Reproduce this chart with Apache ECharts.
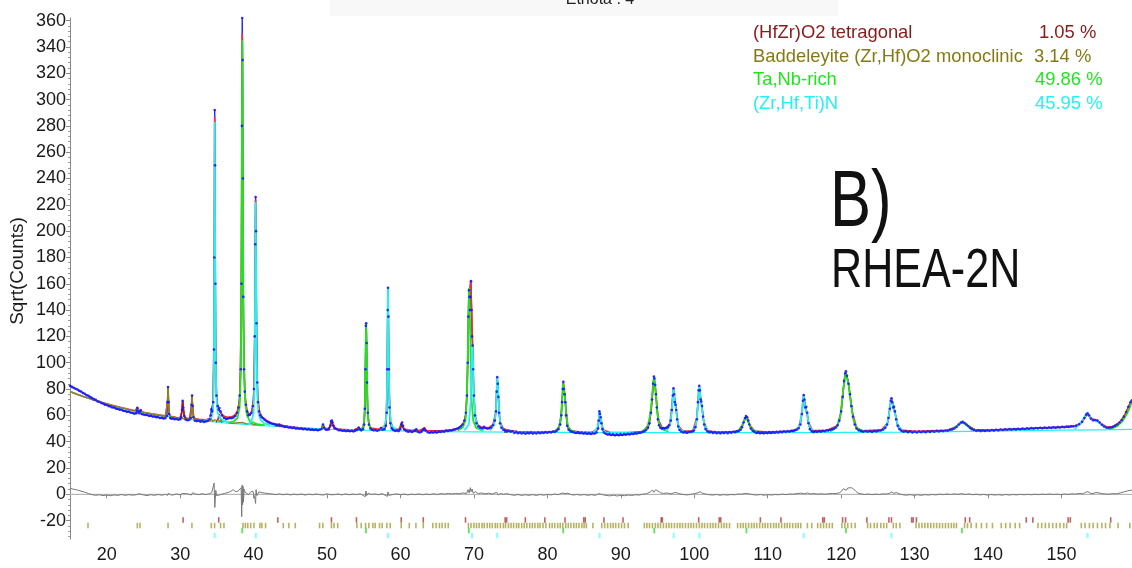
<!DOCTYPE html>
<html>
<head>
<meta charset="utf-8">
<script src="https://cdn.jsdelivr.net/npm/echarts@6/dist/echarts.min.js"></script>
<style>
html,body{margin:0;padding:0;background:#fff;}
#chart{width:1132px;height:568px;}
</style>
</head>
<body>
<div id="chart"></div>
<script>
// Rietveld fit of RHEA-2N, 2-theta in degrees vs sqrt(counts)

// measured pattern
const observed = [
[15,82.5],[15.25,81.6],[15.5,80.9],[15.75,80.2],[16,79.6],[16.25,78.6],[16.5,78.1],[16.75,77.0],[17,76.4],[17.25,75.3],[17.5,74.9],[17.75,73.8],[18,73.2],[18.25,72.1],[18.5,71.8],[18.75,70.6],[19,70.3],[19.25,69.4],[19.5,69.0],[19.75,68.1],[20,67.9],[20.25,67.0],[20.5,66.8],[20.75,66.0],[21,65.9],[21.25,65.1],[21.5,64.8],[21.75,64.3],[22,64.2],[22.25,63.4],[22.5,63.3],[22.75,62.6],[23,62.8],[23.25,62.0],[23.5,61.9],[23.75,61.2],[24,61.5],[24.1,63.5],[24.17,65.5],[24.25,62.8],[24.4,61.6],[24.55,63.0],[24.62,64.0],[24.75,61.0],[25,60.6],[25.25,60.2],[25.5,60.4],[25.75,59.6],[26,59.8],[26.25,59.1],[26.5,59.3],[26.75,58.6],[27,58.9],[27.25,58.0],[27.5,58.3],[27.75,57.6],[28,57.9],[28.2,59.5],[28.28,70],[28.35,81.5],[28.42,70],[28.5,61],[28.65,58.0],[28.8,57.4],[29,57.6],[29.25,57.0],[29.5,57.2],[29.75,56.6],[30,57.0],[30.15,58.5],[30.25,64],[30.33,71],[30.42,66],[30.55,59.5],[30.75,56.8],[31,56.3],[31.25,56.6],[31.45,58],[31.55,68],[31.62,75],[31.7,67],[31.8,58.5],[32,56.0],[32.25,55.6],[32.5,55.9],[32.75,55.2],[33,55.5],[33.25,55.0],[33.5,55.4],[33.75,55.8],[34,57.0],[34.15,60],[34.25,64.5],[34.35,63],[34.5,70],[34.6,110],[34.65,180],[34.7,292],[34.75,250],[34.8,160],[34.85,100],[34.95,75],[35.1,67],[35.25,64.5],[35.35,65.5],[35.5,63],[35.7,60],[36,58],[36.25,57.2],[36.5,57.5],[36.75,58.2],[37,57.8],[37.25,58.3],[37.5,59.5],[37.75,62],[37.95,66],[38.1,75],[38.25,95],[38.35,160],[38.4,280],[38.45,362],[38.5,330],[38.55,240],[38.6,150],[38.7,95],[38.8,78],[38.95,68],[39.1,63],[39.3,60],[39.5,60.5],[39.7,62],[39.9,67],[40.05,80],[40.15,120],[40.22,190],[40.27,226],[40.33,200],[40.4,130],[40.5,85],[40.6,70],[40.75,63],[40.9,60],[41.1,58.5],[41.3,57.8],[41.5,56.6],[41.75,55.6],[42,54.8],[42.25,54.2],[42.5,53.6],[42.75,53.3],[43,52.8],[43.25,52.5],[43.5,52.9],[43.75,52.0],[44,51.8],[44.25,51.1],[44.5,51.4],[44.75,50.8],[45,51.0],[45.25,50.4],[45.5,50.7],[45.75,50.0],[46,50.3],[46.25,49.8],[46.5,50.1],[46.75,49.5],[47,49.8],[47.25,49.2],[47.5,49.6],[47.75,49.0],[48,49.3],[48.25,48.8],[48.5,49.1],[48.75,48.7],[49,49.0],[49.25,49.6],[49.45,53],[49.6,50.5],[49.8,49.2],[50,49.0],[50.25,49.3],[50.45,52],[50.55,55.5],[50.65,56],[50.75,54.5],[50.9,52],[51.1,50],[51.35,49.4],[51.6,48.7],[51.85,48.9],[52.1,48.3],[52.35,48.6],[52.6,48.0],[52.85,48.4],[53.1,47.9],[53.35,48.3],[53.6,47.8],[53.85,48.4],[54.1,48.9],[54.3,50.8],[54.45,49.5],[54.65,48.6],[54.9,49.5],[55.05,53],[55.15,65],[55.22,95],[55.28,128],[55.33,130],[55.38,115],[55.45,85],[55.55,62],[55.7,53],[55.9,50],[56.1,49.1],[56.35,48.6],[56.6,48.9],[56.85,48.3],[57.1,48.8],[57.35,50.4],[57.55,49.0],[57.8,49.5],[58,52],[58.12,62],[58.2,95],[58.26,140],[58.3,157],[58.35,135],[58.42,95],[58.5,66],[58.62,54],[58.8,50],[59,48.8],[59.25,48.2],[59.5,48.5],[59.75,48.0],[59.95,49.5],[60.1,53],[60.22,54.5],[60.35,52],[60.55,49.0],[60.8,48.0],[61.05,47.6],[61.3,48.1],[61.55,47.4],[61.8,47.9],[62,48.2],[62.15,49.3],[62.35,47.5],[62.6,47.0],[62.85,47.6],[63.05,48.8],[63.25,50.2],[63.45,48.5],[63.7,47.2],[63.95,46.8],[64.2,47.4],[64.45,46.9],[64.7,47.6],[64.95,47.0],[65.2,47.8],[65.45,47.3],[65.7,48.0],[65.95,47.6],[66.2,48.4],[66.45,48.0],[66.7,48.6],[66.95,48.5],[67.2,49.0],[67.45,49.3],[67.7,49.8],[67.95,50.5],[68.2,51.5],[68.45,53],[68.7,56],[68.9,62],[69.05,75],[69.15,100],[69.25,135],[69.32,155],[69.38,150],[69.45,140],[69.52,150],[69.6,162],[69.67,140],[69.75,120],[69.82,113],[69.9,95],[70,75],[70.15,60],[70.35,54],[70.6,51.5],[70.85,50.5],[71.1,50.2],[71.35,51.2],[71.6,50.4],[71.85,49.8],[72.1,50.3],[72.35,50.8],[72.6,52.5],[72.85,56],[73,63],[73.1,78],[73.17,89],[73.25,84],[73.33,74],[73.42,62],[73.55,54],[73.75,50.5],[74,49.0],[74.25,48.5],[74.5,48.0],[74.75,48.2],[75,47.6],[75.25,47.9],[75.5,46.6],[75.75,47.2],[76,46.4],[76.25,47.0],[76.5,46.2],[76.75,46.8],[77,46.0],[77.25,46.7],[77.5,46.3],[77.75,46.9],[78,46.1],[78.25,46.7],[78.5,46.2],[78.75,46.9],[79,46.4],[79.25,47.0],[79.5,46.6],[79.75,47.2],[80,46.8],[80.25,47.3],[80.5,47.0],[80.75,47.6],[81,47.4],[81.25,48.2],[81.5,49.5],[81.75,53],[81.9,60],[82,70],[82.1,80],[82.17,85.5],[82.25,80],[82.35,76],[82.45,70],[82.55,60],[82.7,52],[82.9,49],[83.15,47.8],[83.4,47.4],[83.65,47.0],[83.9,46.6],[84.15,47.1],[84.4,46.4],[84.65,46.9],[84.9,46.2],[85.15,46.8],[85.4,46.0],[85.65,46.6],[85.9,45.9],[86.15,46.4],[86.45,46.2],[86.7,47.0],[86.9,50],[87,56],[87.08,63],[87.16,61],[87.25,58.5],[87.35,54],[87.5,49.5],[87.7,47.0],[87.95,46.0],[88.2,45.4],[88.45,45.9],[88.7,45.0],[88.95,45.6],[89.2,44.8],[89.45,45.5],[89.7,44.9],[89.95,45.7],[90.2,45.1],[90.45,45.8],[90.7,45.3],[90.95,46.0],[91.2,45.5],[91.45,46.2],[91.7,45.9],[91.95,46.5],[92.2,46.2],[92.45,46.8],[92.7,46.8],[92.95,47.4],[93.2,47.8],[93.45,48.8],[93.7,50.5],[93.9,54],[94.1,62],[94.25,72],[94.4,84],[94.5,89.5],[94.58,88],[94.68,83],[94.78,76],[94.9,66],[95.05,57],[95.2,52.5],[95.4,50.5],[95.6,50.0],[95.8,50.3],[96,50.0],[96.2,50.5],[96.4,51.0],[96.6,52.5],[96.8,56],[96.95,64],[97.08,75],[97.17,80.5],[97.26,76],[97.35,70],[97.45,68],[97.55,64],[97.68,57],[97.82,51.5],[98,48.8],[98.25,47.5],[98.5,47.0],[98.75,47.4],[99,46.8],[99.25,47.3],[99.5,47.3],[99.75,47.8],[99.95,48.5],[100.15,51],[100.35,57],[100.5,70],[100.6,79],[100.68,82.5],[100.76,79],[100.86,72],[100.95,70.5],[101.05,67],[101.2,59],[101.35,53],[101.55,49.5],[101.8,47.8],[102.05,46.9],[102.3,47.3],[102.55,46.6],[102.8,47.2],[103.05,46.4],[103.3,47.0],[103.55,46.3],[103.8,46.9],[104.05,46.5],[104.3,47.1],[104.55,46.4],[104.8,47.2],[105.05,46.8],[105.3,47.5],[105.55,47.2],[105.8,47.8],[106.05,48.0],[106.3,49.0],[106.5,51],[106.7,54.5],[106.9,58],[107.05,59.5],[107.2,58.5],[107.35,56],[107.5,53],[107.7,50],[107.95,48.3],[108.2,47.4],[108.45,46.6],[108.7,47.2],[108.95,46.4],[109.2,46.9],[109.45,46.3],[109.7,47.0],[109.95,46.5],[110.2,47.2],[110.45,46.6],[110.7,47.3],[110.95,46.8],[111.2,47.5],[111.45,47.0],[111.7,47.6],[111.95,47.2],[112.2,47.9],[112.45,47.4],[112.7,48.0],[112.95,47.6],[113.2,48.3],[113.45,48.0],[113.7,48.6],[113.95,49.0],[114.2,50.2],[114.45,53],[114.65,61],[114.8,71],[114.9,75.5],[115,72],[115.12,66],[115.25,66.5],[115.38,62],[115.55,54],[115.75,49.5],[116,47.8],[116.25,47.2],[116.5,47.8],[116.75,47.3],[117,48.0],[117.25,47.6],[117.5,48.3],[117.75,47.9],[118,48.6],[118.25,48.4],[118.5,49.0],[118.75,49.2],[119,49.8],[119.25,50.8],[119.5,52.5],[119.75,56],[120,63],[120.2,74],[120.4,86],[120.55,92],[120.65,93.5],[120.8,90],[121,84],[121.2,76],[121.4,67],[121.6,59],[121.85,53],[122.1,50],[122.4,48.6],[122.7,48.0],[123,47.6],[123.3,48.1],[123.6,47.5],[123.9,48.0],[124.2,47.4],[124.5,48.1],[124.8,47.8],[125.1,48.4],[125.4,48.5],[125.7,49.2],[126,50.5],[126.25,53],[126.45,58],[126.62,65],[126.75,71],[126.85,73],[126.95,70],[127.08,66],[127.2,66.5],[127.32,63],[127.5,57],[127.7,52],[127.95,49.4],[128.2,48.2],[128.5,47.5],[128.8,47.9],[129.1,47.2],[129.4,47.8],[129.7,47.0],[130,47.6],[130.3,47.0],[130.6,47.7],[130.9,47.1],[131.2,47.8],[131.5,47.2],[131.8,47.9],[132.1,47.4],[132.4,48.0],[132.7,47.5],[133,48.2],[133.3,47.8],[133.6,48.3],[133.9,48.0],[134.2,48.5],[134.5,48.4],[134.8,49.0],[135.1,49.3],[135.4,50.0],[135.7,51.2],[136,53],[136.3,54.5],[136.55,55],[136.8,54.2],[137.05,53],[137.3,51.8],[137.55,50.5],[137.8,49.5],[138.1,48.8],[138.4,48.2],[138.7,48.6],[139,48.0],[139.3,48.5],[139.6,48.1],[139.9,48.6],[140.2,48.2],[140.5,48.8],[140.8,48.4],[141.1,49.0],[141.4,48.6],[141.7,49.2],[142,48.8],[142.3,49.3],[142.6,49.0],[142.9,49.5],[143.2,49.1],[143.5,49.6],[143.8,49.3],[144.1,49.8],[144.4,49.4],[144.7,50.0],[145,49.6],[145.3,50.1],[145.6,49.8],[145.9,50.3],[146.2,49.9],[146.5,50.4],[146.8,50.1],[147.1,50.6],[147.4,50.2],[147.7,50.7],[148,50.4],[148.3,50.8],[148.6,50.5],[148.9,50.9],[149.2,50.6],[149.5,51.0],[149.8,50.8],[150.1,51.2],[150.4,51.0],[150.7,51.4],[151,51.2],[151.3,51.6],[151.6,51.6],[152,52.2],[152.4,53.2],[152.8,55],[153.1,58],[153.35,60.5],[153.55,61.5],[153.75,60],[154,57.5],[154.3,56.2],[154.6,56.5],[154.9,56],[155.2,54.5],[155.5,52.8],[155.8,51.5],[156.1,50.8],[156.4,50.5],[156.7,50.8],[157,51.2],[157.3,52.0],[157.6,53.0],[157.9,54.5],[158.2,56.5],[158.5,59],[158.8,62.5],[159.1,66.5],[159.4,70],[159.6,71.5]
];

// total calculated profile
const calculated = [
[15,78.2],[16,76],[17,74],[18,72.2],[19,70.4],[20,68.8],[21,67.3],[22,65.9],[23,64.6],[23.9,63.5],[24.17,66],[24.35,63.6],[24.55,65],[24.7,63.2],[25,62.3],[26,61.3],[27,60.4],[28,59.6],[28.2,60.5],[28.28,70],[28.35,81],[28.42,70],[28.5,61],[28.7,59.2],[29.5,58.4],[30,58.1],[30.2,61],[30.35,71],[30.5,61],[30.7,58],[31.3,57.6],[31.5,62],[31.6,75],[31.7,64],[31.9,57.8],[32.5,57],[33.5,56.6],[34,57.5],[34.25,60.5],[34.45,64],[34.6,120],[34.7,287],[34.8,130],[34.95,74],[35.15,65],[35.3,65],[35.5,62.5],[35.8,60],[36.2,58.8],[36.6,58.5],[37,58.8],[37.4,60],[37.8,63],[38.1,72],[38.3,130],[38.45,350],[38.6,130],[38.8,76],[39.1,63.5],[39.4,60.5],[39.7,61.5],[40,72],[40.15,120],[40.27,224],[40.4,120],[40.55,75],[40.8,62.5],[41.2,58.5],[41.8,56],[42.5,54],[43.3,53.2],[44,52.2],[45,51.3],[46,50.7],[47,50.2],[48,49.8],[49.2,49.6],[49.45,53],[49.7,49.8],[50.3,50.2],[50.6,56],[50.9,51.5],[51.3,49.8],[52,49.3],[53,49.0],[54,49.0],[54.3,50.5],[54.6,49.2],[55,51],[55.15,65],[55.33,129],[55.5,66],[55.7,53],[56,50.3],[57,49.4],[57.35,50.3],[57.6,49.4],[58,52],[58.15,75],[58.3,156],[58.45,80],[58.65,55],[59,50.2],[59.8,49],[60.15,54.5],[60.5,49.5],[61.5,48.4],[62.15,49.2],[62.5,48.3],[63.15,50],[63.5,48.4],[64.5,48.2],[66,48.4],[67,49.0],[68,50.5],[68.6,54],[68.9,60],[69.1,85],[69.3,150],[69.45,150],[69.55,162],[69.7,140],[69.8,116],[69.95,80],[70.15,60],[70.5,53],[71,51],[72,50.5],[72.6,53],[72.95,62],[73.17,88],[73.35,72],[73.55,55],[74,50],[74.4,49],[75,48.2],[76,47.7],[78,47.4],[80,47.3],[81,47.8],[81.6,51],[81.9,62],[82.17,85],[82.35,76],[82.5,66],[82.8,51],[83.3,48.2],[84.5,47.3],[86,47.1],[86.8,49],[87.1,62],[87.3,57],[87.6,49],[88.5,47.0],[91,46.9],[93,47.6],[93.8,53],[94.2,68],[94.52,88.5],[94.8,75],[95.1,57],[95.6,50.8],[96.2,50.6],[96.7,54],[97.17,80],[97.45,68],[97.8,52],[98.5,47.8],[99.8,48.3],[100.35,58],[100.68,82],[100.95,70],[101.3,55],[101.8,48.5],[103,47.2],[105,47.3],[106,48.3],[106.6,53],[107.05,59],[107.5,53],[108.2,48],[110,47.3],[113,47.8],[114.2,50],[114.6,60],[114.9,75],[115.1,67],[115.25,66],[115.6,54],[116.1,48.6],[118,48.5],[119.5,52],[120,63],[120.4,86],[120.65,93],[121,84],[121.5,63],[122.1,50.5],[123,48.2],[125.5,49],[126.3,54],[126.85,72.5],[127.2,66],[127.6,54],[128.2,48.8],[130,47.8],[134.5,48.6],[135.7,51.5],[136.5,55],[137.3,52],[138.2,49.2],[140,48.8],[145,49.8],[150,51.0],[152,52],[152.8,55],[153.55,61],[154,58],[154.6,56.5],[155.3,54],[156.2,51],[157,51.5],[158,55],[158.8,62],[159.6,71.5]
];

// refined background
const background = [
[15,78],[16,75.8],[17,73.8],[18,72],[19,70.2],[20,68.6],[21,67.1],[22,65.7],[23,64.4],[24,63.2],[25,62.1],[26,61.1],[27,60.2],[28,59.3],[29,58.5],[30,57.8],[31,57.1],[32,56.5],[33,55.9],[34,55.3],[36,54.3],[38,53.4],[40,52.6],[42,51.9],[44,51.2],[46,50.6],[48,50.1],[50,49.6],[52,49.2],[55,48.7],[58,48.3],[62,47.9],[66,47.6],[70,47.4],[75,47.2],[80,47.0],[90,46.8],[100,46.8],[110,46.9],[120,47.0],[130,47.3],[140,48.0],[150,48.7],[155,49.0],[159.6,49.3]
];

// phase profiles (background + phase), one list per peak group
const tetragonalProfile = [
[[29.9,57.9],[30.15,60],[30.27,66],[30.35,71],[30.45,64],[30.6,59],[30.9,57.4]],
[[34.9,54.8],[35.15,57],[35.3,61],[35.45,57.5],[35.7,54.6]],
[[43.0,51.5],[43.3,52.6],[43.6,51.4]],
[[50.2,49.6],[50.45,51.5],[50.6,55.5],[50.75,53],[51.0,49.5]],
[[53.7,48.9],[54.0,50],[54.3,48.9]],
[[59.8,48.1],[60.05,50.5],[60.15,53.5],[60.3,51],[60.6,48.1]],
[[62.9,47.8],[63.15,50],[63.4,47.8]],
[[74.1,47.3],[74.35,48.3],[74.6,47.3]]
];
const baddeleyiteProfile = [
[[15,78],[16,75.8],[17,73.8],[17.45,73.3],[18,72],[19,70.2],[20,68.6],[21,67.1],[22,65.7],[23,64.4],[23.9,63.3],[24.05,64.5],[24.17,66.5],[24.3,64],[24.45,63.5],[24.55,65],[24.68,63.3],[25,62.1],[26,61.1],[27,60.2],[28,59.3],[28.2,60.5],[28.28,70],[28.35,82],[28.42,69],[28.52,60.5],[28.8,59],[29.5,58.2],[30,57.8],[31,57.2],[31.45,58],[31.55,66],[31.62,75],[31.7,66],[31.8,58],[32,56.6],[33,55.9],[34,55.4],[34.24,57.5],[34.4,55.4],[34.69,56.5],[34.85,55],[35.5,55.5],[35.7,54.6],[35.96,55.8],[36.2,54.4],[37,54.0],[38.55,54.5],[39,53.5],[39.6,54],[40,53],[41,52.6]],
[[49.2,49.6],[49.35,51],[49.45,53.5],[49.55,51.5],[49.75,49.6]],
[[54.1,48.8],[54.3,50.6],[54.5,48.8]],
[[57.15,48.4],[57.35,50],[57.55,48.4]],
[[61.95,47.9],[62.15,49.3],[62.35,47.9]]
];
const taNbProfile = [
[[36.5,54.2],[37.3,55.5],[37.8,58],[38.1,66],[38.25,90],[38.35,170],[38.42,300],[38.46,345],[38.5,300],[38.58,170],[38.68,100],[38.85,70],[39.1,60],[39.5,55.5],[40.5,53.3],[41.5,52.5]],
[[54.4,48.7],[54.8,50],[55.05,55],[55.18,75],[55.27,115],[55.33,130],[55.4,110],[55.5,72],[55.62,56],[55.85,50.5],[56.3,48.9]],
[[67.8,48.5],[68.5,51],[68.85,56],[69.05,75],[69.18,110],[69.28,145],[69.35,157],[69.42,145],[69.55,105],[69.7,70],[69.9,56],[70.3,50.5],[71.2,48.3]],
[[80.8,47.2],[81.5,49.5],[81.85,58],[82.0,72],[82.12,84],[82.2,85],[82.3,78],[82.42,72],[82.55,62],[82.75,52],[83.2,48.2],[84,47.2]],
[[92.8,47.3],[93.6,50.5],[94.0,60],[94.3,78],[94.5,89],[94.62,86],[94.8,74],[94.95,63],[95.2,54],[95.6,49.5],[96.5,47.5]],
[[105.5,47.2],[106.3,49.5],[106.7,54.5],[107.05,59],[107.4,54.5],[107.8,49.5],[108.6,47.4]],
[[118.5,47.8],[119.4,51],[119.9,60],[120.3,80],[120.6,92],[120.75,92.5],[121.0,84],[121.35,68],[121.7,56],[122.2,50],[123.2,47.6]],
[[134.3,47.8],[135.3,49.8],[135.9,52.5],[136.5,55],[137.1,52.5],[137.8,49.5],[138.8,48.2]],
[[156.5,49.2],[157.5,51.5],[158.3,55.5],[158.9,61],[159.3,66],[159.6,71]]
];
const nitrideProfile = [
[[33.2,55.8],[33.9,57],[34.3,59],[34.5,66],[34.6,100],[34.66,180],[34.7,283],[34.75,200],[34.82,110],[34.92,75],[35.1,62],[35.4,58],[35.9,56],[36.6,54.6]],
[[39.2,53.3],[39.7,55],[40.0,62],[40.12,85],[40.2,150],[40.27,222],[40.33,180],[40.4,110],[40.5,75],[40.65,62],[40.9,57],[41.4,54],[42.3,52.3]],
[[57.0,48.7],[57.7,50.5],[58.05,57],[58.17,80],[58.25,135],[58.3,157],[58.36,130],[58.45,82],[58.58,60],[58.8,52],[59.4,49.2]],
[[68.7,48.6],[69.3,53],[69.55,70],[69.68,100],[69.78,113],[69.88,100],[70.0,75],[70.2,58],[70.6,50.5],[71.4,48.4]],
[[72.2,48.5],[72.75,53],[72.98,62],[73.08,76],[73.17,89],[73.25,83],[73.35,72],[73.45,62],[73.6,53],[74.0,48.8]],
[[86.3,47.2],[86.8,50.5],[86.98,56],[87.08,62.5],[87.18,61],[87.28,57.5],[87.45,51],[87.8,47.8]],
[[96.2,47.8],[96.75,53.5],[96.98,66],[97.12,78],[97.18,80],[97.28,74],[97.4,68],[97.52,64],[97.68,56],[97.95,50],[98.5,47.5]],
[[99.9,47.8],[100.3,55],[100.5,68],[100.62,80],[100.68,82],[100.78,77],[100.9,70],[101.02,67],[101.15,60],[101.4,52],[101.9,48]],
[[113.8,48.2],[114.4,53],[114.65,62],[114.82,73],[114.9,75],[115.0,70],[115.12,66],[115.25,66],[115.4,60],[115.65,52],[116.1,48.5]],
[[125.7,48.3],[126.3,54],[126.6,64],[126.78,72],[126.85,73],[126.95,70],[127.1,66],[127.22,66],[127.4,60],[127.7,52.5],[128.3,48.5]],
[[151.8,49.5],[152.6,54],[153.1,58.5],[153.5,61],[153.8,59.5],[154.2,56.5],[154.6,56],[155.0,55],[155.5,52.5],[156.3,49.8]]
];

// observed minus calculated
const difference = [
[15,4.5],[15.5,3.8],[16,3.2],[16.5,2.4],[17,1.6],[17.5,0.6],[18,-0.3],[18.5,-0.8],[19,-0.4],[19.5,-1.0],[20,-0.6],[20.5,-1.1],[21,-0.5],[21.5,-0.9],[22,-0.2],[22.5,-0.8],[23,-0.3],[23.5,-0.7],[24,-0.4],[24.2,-1.5],[24.4,0.4],[24.6,-1],[25,-0.5],[25.5,-1.0],[26,-0.3],[26.5,-0.8],[27,-0.2],[27.5,-0.7],[28,-0.1],[28.3,-0.8],[28.4,0.8],[28.7,-0.4],[29,-0.6],[29.5,0.3],[30,-0.4],[30.3,0.6],[30.5,-0.5],[31,0.4],[31.5,-0.6],[31.7,1.2],[32,0.3],[32.5,-0.3],[33,0.4],[33.5,-0.2],[34,0.5],[34.3,1.2],[34.5,2.0],[34.62,8.5],[34.68,-3],[34.72,-10],[34.78,-4],[34.85,3],[34.95,-1],[35.2,0.5],[35.5,-0.3],[36,0.6],[36.5,1.3],[36.9,2.2],[37.2,3.5],[37.4,2.8],[37.6,1.8],[37.9,2.5],[38.1,3.2],[38.3,5],[38.38,-17],[38.44,7],[38.5,-8],[38.56,6],[38.62,-6],[38.7,4],[38.85,1.5],[39,0.8],[39.3,-0.3],[39.6,1.8],[39.9,2.4],[40.1,1.2],[40.2,-4],[40.27,-7],[40.33,3.5],[40.45,-1],[40.7,1.8],[41,1.4],[41.5,0.9],[42,0.5],[42.5,0.2],[43,-0.3],[43.5,0.3],[44,-0.4],[44.5,0.2],[45,-0.5],[45.5,0.1],[46,-0.4],[46.5,0.2],[47,-0.6],[47.5,0.1],[48,-0.4],[48.5,0.2],[49,-0.3],[49.5,-0.6],[50,0.3],[50.5,-0.4],[50.7,0.6],[51,-0.3],[51.5,0.2],[52,-0.5],[52.5,0.3],[53,-0.4],[53.5,0.2],[54,-0.3],[54.5,0.4],[55.2,-1.8],[55.3,2.5],[55.4,-1.0],[55.6,0.8],[56,-0.2],[56.5,0.3],[57,-0.4],[57.5,0.5],[58.2,-1.6],[58.3,1.8],[58.4,-0.8],[58.6,0.6],[59,-0.2],[59.5,0.3],[60,-0.4],[60.5,0.2],[61,-0.5],[61.5,0.1],[62,-0.3],[62.5,0.3],[63,-0.4],[63.5,0.2],[64,-0.3],[64.5,0.4],[65,-0.2],[65.5,0.5],[66,0.1],[66.5,0.6],[67,0.2],[67.5,0.7],[68,0.4],[68.5,1.0],[69,0.6],[69.2,3.5],[69.35,1.0],[69.5,5.0],[69.6,2.0],[69.75,4.0],[69.9,0.8],[70.2,2.0],[70.6,0.5],[71,1.0],[71.5,0.3],[72,0.8],[72.5,0.2],[73.1,1.5],[73.3,-0.5],[73.6,0.6],[74,0],[74.5,0.4],[75,-0.3],[75.5,-0.8],[76,-0.2],[76.5,-0.9],[77,-0.4],[77.5,-0.8],[78,-0.3],[78.5,-0.9],[79,-0.2],[79.5,-0.7],[80,-0.1],[80.5,-0.5],[81,0.2],[81.5,-0.3],[82,1.0],[82.2,2.2],[82.4,0.5],[82.8,0.8],[83.2,-0.2],[83.6,-0.6],[84,-0.1],[84.5,-0.7],[85,-0.2],[85.5,-0.8],[86,-0.3],[86.5,-0.8],[87,0.4],[87.2,1.0],[87.5,-0.3],[88,-0.9],[88.5,-1.2],[89,-0.7],[89.5,-1.3],[90,-0.8],[90.5,-1.1],[91,-0.6],[91.5,-0.9],[92,-0.4],[92.5,-0.6],[93,0.1],[93.5,0.4],[94,1.8],[94.3,3.2],[94.5,1.5],[94.75,3.5],[95,2.0],[95.4,1.2],[95.8,0.6],[96.3,1.0],[96.8,0.3],[97.2,1.0],[97.5,1.4],[97.9,0.4],[98.5,-0.2],[99,-0.5],[99.5,-0.1],[100,0.4],[100.5,1.2],[100.8,2.0],[101.1,0.8],[101.5,0.2],[102,-0.3],[102.5,-0.6],[103,-0.2],[103.5,-0.7],[104,-0.3],[104.5,-0.6],[105,-0.2],[105.5,-0.4],[106,0.2],[106.5,0.1],[107,0.7],[107.5,0.2],[108,-0.3],[108.5,-0.6],[109,-0.2],[109.5,-0.7],[110,-0.3],[110.5,-0.6],[111,-0.2],[111.5,-0.4],[112,0.1],[112.5,-0.3],[113,0.2],[113.5,0.1],[114,0.5],[114.5,0.9],[115,0.3],[115.4,1.0],[115.8,0.2],[116.3,0.5],[116.8,0.1],[117.3,0.4],[117.8,0],[118.3,0.4],[118.8,0.6],[119.3,0.5],[119.8,1.2],[120.1,2.6],[120.3,4.2],[120.5,3.4],[120.7,3.0],[120.9,4.8],[121.1,5.5],[121.4,5.0],[121.7,4.0],[122,2.2],[122.3,0.8],[122.7,0.3],[123.2,-0.2],[123.7,0.2],[124.2,-0.3],[124.7,0.1],[125.2,-0.2],[125.7,0.3],[126.2,0.2],[126.6,0.8],[126.9,1.8],[127.2,0.6],[127.5,1.4],[127.9,0.3],[128.4,-0.4],[128.9,-0.7],[129.4,-0.3],[129.9,-0.8],[130.4,-0.4],[130.9,-0.8],[131.4,-0.3],[131.9,-0.6],[132.4,-0.2],[132.9,-0.5],[133.4,0.1],[133.9,-0.3],[134.4,0.2],[134.9,-0.2],[135.4,0.3],[135.9,-0.1],[136.4,0.5],[136.9,-0.2],[137.4,0.3],[137.9,-0.4],[138.4,0.1],[138.9,-0.5],[139.4,-0.1],[139.9,-0.6],[140.4,-0.2],[140.9,-0.6],[141.4,-0.3],[141.9,-0.7],[142.4,-0.2],[142.9,-0.6],[143.4,-0.2],[143.9,-0.5],[144.4,-0.1],[144.9,-0.4],[145.4,-0.1],[145.9,-0.4],[146.4,0],[146.9,-0.3],[147.4,0.1],[147.9,-0.2],[148.4,0.2],[148.9,-0.2],[149.4,0.1],[149.9,-0.3],[150.4,0.2],[150.9,-0.1],[151.4,0.3],[151.9,0.1],[152.4,0.6],[152.9,0.3],[153.3,1.5],[153.6,2.0],[153.9,0.8],[154.3,0.5],[154.7,1.4],[155.1,1.0],[155.5,0.5],[156,0.2],[156.5,0.1],[157,0.5],[157.5,0.3],[158,1.0],[158.5,1.8],[159,2.6],[159.6,3.2]
];

// reflection positions of each phase
const tetragonalTicks = [30.4,35.25,43.3,50.6,54.0,60.1,63.1,68.85,74.25,74.45,77.0,79.65,82.4,84.95,85.15,87.7,90.3,95.5,95.65,100.6,103.4,103.6,109.0,111.8,117.5,117.7,120.2,120.6,123.5,126.5,126.85,129.6,129.8,130.25,136.9,137.5,145.2,146.1,150.9,151.2,156.7];
const baddeleyiteTicks = [17.45,24.17,24.53,28.35,31.6,34.24,34.69,35.5,35.96,38.55,38.87,39.2,39.6,40.05,40.86,41.13,41.63,44.04,44.8,45.67,48.98,49.43,50.6,50.95,51.45,54.06,54.65,55.24,55.69,56.24,56.55,57.14,57.5,58.14,58.6,60.1,61.2,62.1,63.1,64.4,64.85,65.3,65.67,66.1,66.5,
69.25,69.6,70.0,70.35,70.7,71.1,71.4,71.8,72.15,72.5,72.9,73.2,73.6,74.0,74.3,74.7,75.05,75.4,75.8,76.1,76.5,76.85,77.2,77.6,77.95,78.3,78.7,79.0,79.4,79.8,
80.3,80.65,81.0,81.4,81.75,82.1,82.5,82.85,83.2,83.6,83.95,84.3,84.7,85.0,85.3,86.2,
87.4,87.8,88.2,88.6,88.95,89.3,89.7,90.1,90.5,91.0,
93.2,93.55,93.9,94.3,94.7,95.05,95.4,95.8,96.2,96.55,96.9,97.3,97.7,98.05,98.4,98.8,99.2,99.55,99.9,100.3,100.7,101.05,101.4,101.8,102.2,102.55,102.9,103.3,103.7,104.05,104.4,104.8,
105.9,106.3,106.65,107.0,107.4,107.8,108.15,108.5,108.9,109.3,109.65,110.0,110.4,110.8,111.15,111.5,111.9,112.3,112.65,113.0,113.4,113.8,114.15,114.5,115.4,116.0,
116.8,117.2,117.6,118.0,118.4,118.8,120.1,120.5,120.9,121.4,121.9,123.6,124.0,124.5,124.9,125.4,125.8,126.2,127.1,127.5,128.0,
130.2,130.6,131.0,131.4,131.8,132.2,132.6,133.0,133.4,133.8,134.2,134.6,135.0,135.35,135.7,136.8,137.2,137.7,138.4,139.1,139.8,140.6,141.8,142.4,143.0,143.7,144.3,
146.8,147.3,147.8,148.3,148.8,149.3,149.8,150.3,150.7,152.7,153.2,153.8,154.3,154.9,155.5,156.0,156.6,157.7,159.3];
const taNbTicks = [38.45,55.3,69.3,82.15,94.55,107.1,120.65,136.45];
const nitrideTicks = [34.7,40.3,58.3,69.75,73.17,87.1,97.2,100.7,114.9,126.85,153.55];

// axis labels
const xTickValues = [20,30,40,50,60,70,80,90,100,110,120,130,140,150];
const yTickValues = [-20,0,20,40,60,80,100,120,140,160,180,200,220,240,260,280,300,320,340,360];
const yMinorValues = [-32,-28,-24,-16,-12,-8,-4,4,8,12,16,24,28,32,36,44,48,52,56,64,68,72,76,84,88,92,96,104,108,112,116,124,128,132,136,144,148,152,156,164,168,172,176,184,188,192,196,204,208,212,216,224,228,232,236,244,248,252,256,264,268,272,276,284,288,292,296,304,308,312,316,324,328,332,336,344,348,352,356];

// legend rows: phase, weight fraction
const phaseNames = ['(HfZr)O2 tetragonal','Baddeleyite (Zr,Hf)O2 monoclinic','Ta,Nb-rich','(Zr,Hf,Ti)N'];
const phaseFractions = ['1.05 %','3.14 %','49.86 %','45.95 %'];
const phaseColors = ['#8b1a1a','#857a12','#1ee61e','#22f2f2'];

function joinSegments(segs) {
  const out = [];
  segs.forEach((s, i) => {
    if (i > 0) out.push([s[0][0], '-']);
    s.forEach(p => out.push(p));
  });
  return out;
}
function tickRow(ticks, level) {
  return ticks.map(t => [t, level]);
}

const chart = echarts.init(document.getElementById('chart'), null, {renderer: 'canvas'});
const FONT = '"Liberation Sans", Arial, sans-serif';

const lineBase = {type: 'line', showSymbol: false, symbol: 'none', animation: false, silent: true, connectNulls: false};

const option = {
  animation: false,
  backgroundColor: '#ffffff',
  grid: {left: 70, right: 0, top: 18, bottom: 29, containLabel: false},
  xAxis: {
    type: 'value', min: 15, max: 159.6,
    axisLine: {show: true, lineStyle: {color: '#8a8a8a', width: 1}},
    axisTick: {show: true, length: 4, inside: false, customValues: xTickValues, lineStyle: {color: '#8a8a8a'}},
    axisLabel: {customValues: xTickValues, fontSize: 18, color: '#1a1a1a', fontFamily: FONT, margin: 7},
    splitLine: {show: false}
  },
  yAxis: [{
    type: 'value', min: -34, max: 362, position: 'left',
    axisLine: {show: true, lineStyle: {color: '#8a8a8a', width: 1}},
    axisTick: {show: true, length: 4, customValues: yTickValues, lineStyle: {color: '#8a8a8a'}},
    axisLabel: {customValues: yTickValues, fontSize: 18, color: '#1a1a1a', fontFamily: FONT, margin: 4},
    splitLine: {show: false}
  }, {
    type: 'value', min: -34, max: 362, position: 'left', offset: 0,
    axisLine: {show: false},
    axisTick: {show: true, length: 2, customValues: yMinorValues, lineStyle: {color: '#9a9a9a'}},
    axisLabel: {show: false},
    splitLine: {show: false}
  }],
  graphic: [
    {type: 'rect', shape: {x: 330, y: 0, width: 508, height: 16}, style: {fill: '#f8f8f8'}, z: 0},
    {type: 'text', x: 600, y: 8, style: {text: 'Ethota : 4', font: '16px ' + FONT, fill: '#222', textAlign: 'center', textVerticalAlign: 'bottom'}},
    {type: 'text', x: 18, y: 271, rotation: Math.PI / 2, style: {text: 'Sqrt(Counts)', font: '19px ' + FONT, fill: '#1a1a1a', textAlign: 'center', textVerticalAlign: 'middle'}},
    {type: 'text', x: 830, y: 204, scaleX: 0.77, style: {text: 'B)', font: '80px ' + FONT, fill: '#111', textAlign: 'left', textVerticalAlign: 'middle'}},
    {type: 'text', x: 831, y: 272, scaleX: 0.77, style: {text: 'RHEA-2N', font: '56px ' + FONT, fill: '#111', textAlign: 'left', textVerticalAlign: 'middle'}}
  ].concat(phaseNames.map((n, i) => ({
    type: 'text', x: 753, y: 33 + i * 23.6,
    style: {text: n, font: '18.4px ' + FONT, fill: phaseColors[i], textAlign: 'left', textVerticalAlign: 'middle'}
  }))).concat(phaseFractions.map((f, i) => ({
    type: 'text', x: [1039, 1034, 1035, 1035][i], y: 33 + i * 23.6,
    style: {text: f, font: '18.4px ' + FONT, fill: phaseColors[i], textAlign: 'left', textVerticalAlign: 'middle'}
  }))),
  series: [
    Object.assign({}, lineBase, {name: 'zero', data: [[15, 0], [159.6, 0]], lineStyle: {color: '#c4c4c4', width: 1}, z: 1}),
    Object.assign({}, lineBase, {name: 'Difference', data: difference, lineStyle: {color: '#777777', width: 1}, z: 2}),
    {type: 'scatter', name: 'tetragonal hkl', data: tickRow(tetragonalTicks, -19.5), symbol: 'rect', symbolSize: [1.6, 5.5], itemStyle: {color: '#b03a3a'}, silent: true, z: 2},
    {type: 'scatter', name: 'baddeleyite hkl', data: tickRow(baddeleyiteTicks, -23.8), symbol: 'rect', symbolSize: [1.6, 5.5], itemStyle: {color: '#a3a03a'}, silent: true, z: 2},
    {type: 'scatter', name: 'Ta,Nb hkl', data: tickRow(taNbTicks, -27.6), symbol: 'rect', symbolSize: [1.8, 5.5], itemStyle: {color: '#33e033'}, silent: true, z: 2},
    {type: 'scatter', name: 'nitride hkl', data: tickRow(nitrideTicks, -31.4), symbol: 'rect', symbolSize: [2, 5.5], itemStyle: {color: '#66ffff'}, silent: true, z: 2},
    Object.assign({}, lineBase, {name: 'Observed trace', data: observed, lineStyle: {color: '#2a2aff', width: 1.4}, z: 3}),
    Object.assign({}, lineBase, {name: 'Calculated', data: calculated, lineStyle: {color: '#ff2a2a', width: 1.6}, z: 3}),
    Object.assign({}, lineBase, {name: 'Background', data: background, lineStyle: {color: '#22f2f2', width: 1.2}, z: 4}),
    Object.assign({}, lineBase, {name: phaseNames[0], data: joinSegments(tetragonalProfile), lineStyle: {color: '#9b2020', width: 1.4}, z: 5}),
    Object.assign({}, lineBase, {name: phaseNames[1], data: joinSegments(baddeleyiteProfile), lineStyle: {color: '#8e8418', width: 1.4}, z: 5}),
    Object.assign({}, lineBase, {name: phaseNames[2], data: joinSegments(taNbProfile), lineStyle: {color: '#1ee61e', width: 1.8}, z: 6}),
    Object.assign({}, lineBase, {name: phaseNames[3], data: joinSegments(nitrideProfile), lineStyle: {color: '#22f2f2', width: 1.8}, z: 7}),
    {type: 'scatter', name: 'Observed', data: observed, symbol: 'circle', symbolSize: 2.6, itemStyle: {color: '#1a1aff', opacity: 0.9}, silent: true, z: 8}
  ]
};
chart.setOption(option);
</script>
</body>
</html>
